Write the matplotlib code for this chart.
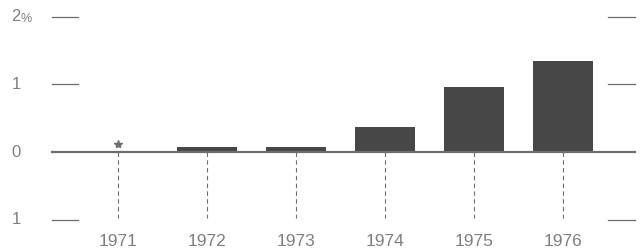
import numpy as np
import matplotlib.pyplot as plt

years = ['1971', '1972', '1973', '1974', '1975', '1976']
values = [0.0, 0.08, 0.08, 0.37, 0.96, 1.35]
ytick_vals = [2, 1, 0, -1]
ytick_labels = ['2', '1', '0', '1']

bar_color = '#474747'
line_color = '#6e6e6e'
text_color = '#7f7f7f'

fig = plt.figure(figsize=(6.44, 2.5), dpi=100)
ax = fig.add_axes([0, 0, 1, 1])
ax.set_xlim(-1.33, 5.91)
ax.set_ylim(-1.45, 2.25)
ax.axis('off')

x = np.arange(len(years))

# bars (1971 is marked with a small star instead)
for xi, v in zip(x, values):
    if v > 0:
        ax.bar(xi, v, width=0.68, color=bar_color, zorder=2)
    else:
        ax.plot(xi, 0.12, marker='*', ms=6, color=line_color, zorder=3)

# baseline
ax.plot([-0.74, 5.81], [0, 0], color=line_color, lw=1.6, zorder=3)

# dashed drop lines and year labels
for xi, y in zip(x, years):
    ax.plot([xi, xi], [0, -0.98], color=line_color, lw=0.8,
            ls=(0, (4, 3)), zorder=1)
    ax.text(xi, -1.32, y, ha='center', va='center', fontsize=12.5,
            color=text_color, family='Liberation Sans')

# short tick dashes at both sides
for v in ytick_vals:
    if v == 0:
        continue
    ax.plot([-0.74, -0.45], [v, v], color=line_color, lw=0.9)
    ax.plot([5.51, 5.81], [v, v], color=line_color, lw=0.9)

# y labels
for v, lab in zip(ytick_vals, ytick_labels):
    ax.text(-1.2, v, lab, ha='left', va='center', fontsize=12,
            color=text_color, family='Liberation Sans')
ax.text(-1.095, 1.97, '%', ha='left', va='center', fontsize=9,
        color=text_color, family='Liberation Sans')

fig.savefig('out.png', dpi=100)
